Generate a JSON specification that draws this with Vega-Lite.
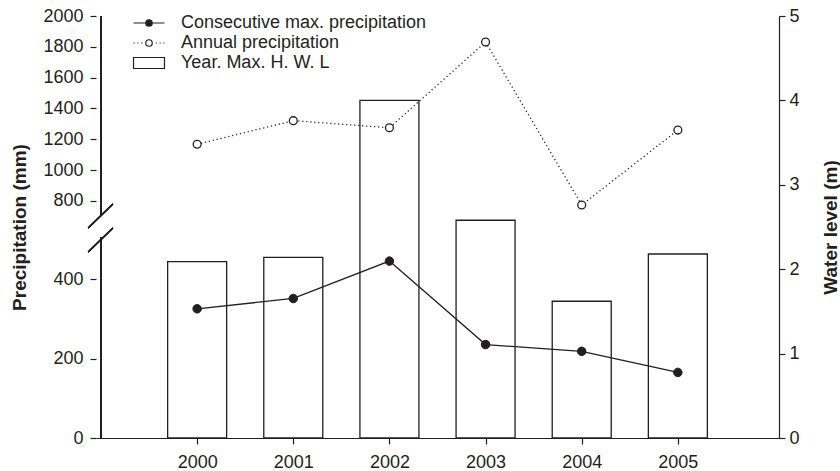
{
  "$schema": "https://vega.github.io/schema/vega-lite/v6.json",
  "width": 683,
  "height": 422,
  "autosize": {"type": "none"},
  "padding": {"left": 96, "top": 16, "right": 61, "bottom": 33},
  "background": "white",
  "config": {
    "view": {"stroke": null},
    "font": "Liberation Sans",
    "axis": {
      "labelFont": "Liberation Sans",
      "labelFontSize": 18,
      "labelColor": "#231f20",
      "titleFont": "Liberation Sans",
      "titleFontSize": 19,
      "titleFontWeight": "bold",
      "titleColor": "#231f20",
      "domainColor": "#231f20",
      "domainWidth": 1.2,
      "tickColor": "#231f20",
      "tickWidth": 1.2,
      "tickSize": 6,
      "grid": false,
      "labelFlush": false,
      "labelOverlap": false
    }
  },
  "data": {
    "values": [
      {"year": 2000, "water": 2.09, "consecutive": 325, "annual": 1168},
      {"year": 2001, "water": 2.14, "consecutive": 351, "annual": 1321},
      {"year": 2002, "water": 4.0, "consecutive": 445, "annual": 1275},
      {"year": 2003, "water": 2.58, "consecutive": 235, "annual": 1831},
      {"year": 2004, "water": 1.62, "consecutive": 218, "annual": 774},
      {"year": 2005, "water": 2.18, "consecutive": 165, "annual": 1260}
    ]
  },
  "encoding": {
    "x": {
      "field": "year",
      "type": "quantitative",
      "scale": {"domain": [1999, 2006], "nice": false, "zero": false},
      "axis": {"values": [2000, 2001, 2002, 2003, 2004, 2005], "format": "d", "title": null, "labelPadding": 9}
    }
  },
  "layer": [
    {
      "layer": [
        {
          "mark": {"type": "bar", "orient": "vertical", "width": 59, "fill": "white", "stroke": "#231f20", "strokeWidth": 1.3},
          "encoding": {
            "y": {
              "field": "water",
              "type": "quantitative",
              "scale": {"domain": [0, 5], "nice": false, "zero": true},
              "axis": {
                "orient": "right",
                "values": [0, 1, 2, 3, 4, 5],
                "title": "Water level (m)",
                "titleAngle": 270,
                "titleBaseline": "top",
                "titlePadding": 22,
                "labelPadding": 4
              }
            }
          }
        }
      ]
    },
    {
      "layer": [
        {
          "mark": {"type": "line", "stroke": "#231f20", "strokeWidth": 1.3, "strokeDash": [1.2, 2.8]},
          "encoding": {
            "y": {
              "field": "annual",
              "type": "quantitative",
              "scale": {"domain": [0, 500, 750, 2000], "range": [422, 223.25, 192.7, 0], "nice": false, "zero": false},
              "axis": {
                "orient": "left",
                "values": [0, 200, 400, 800, 1000, 1200, 1400, 1600, 1800, 2000],
                "format": "d",
                "title": "Precipitation (mm)",
                "domain": false,
                "labelPadding": 7,
                "titlePadding": 13
              }
            }
          }
        },
        {
          "mark": {"type": "line", "stroke": "#231f20", "strokeWidth": 1.3},
          "encoding": {"y": {"field": "consecutive", "type": "quantitative"}}
        },
        {
          "mark": {"type": "point", "shape": "circle", "filled": true, "fill": "white", "stroke": "#231f20", "strokeWidth": 1.3, "size": 62, "opacity": 1},
          "encoding": {"y": {"field": "annual", "type": "quantitative"}}
        },
        {
          "mark": {"type": "point", "shape": "circle", "filled": true, "fill": "#231f20", "stroke": "#231f20", "strokeWidth": 1, "size": 72, "opacity": 1},
          "encoding": {"y": {"field": "consecutive", "type": "quantitative"}}
        },
        {
          "mark": {"type": "rule", "stroke": "#231f20", "strokeWidth": 1.2},
          "encoding": {"x": {"datum": 1999}, "y": {"datum": 0}, "y2": {"datum": 518}}
        },
        {
          "mark": {"type": "rule", "stroke": "#231f20", "strokeWidth": 1.2},
          "encoding": {"x": {"datum": 1999}, "y": {"datum": 698}, "y2": {"datum": 2000}}
        },
        {
          "mark": {"type": "rule", "stroke": "#231f20", "strokeWidth": 1.2},
          "encoding": {"x": {"datum": 1998.867}, "x2": {"datum": 1999.123}, "y": {"datum": 592}, "y2": {"datum": 780.5}}
        },
        {
          "mark": {"type": "rule", "stroke": "#231f20", "strokeWidth": 1.2},
          "encoding": {"x": {"datum": 1998.867}, "x2": {"datum": 1999.123}, "y": {"datum": 468}, "y2": {"datum": 592}}
        },
        {
          "transform": [{"fold": ["consecutive", "annual", "water"], "as": ["series", "amount"]}],
          "mark": {"type": "point", "filled": false, "color": "#231f20", "strokeWidth": 1.2, "size": 324, "opacity": 0},
          "encoding": {
            "shape": {
              "field": "series",
              "type": "nominal",
              "scale": {
                "domain": ["consecutive", "annual", "water"],
                "range": [
                  "M-1.72,0H1.72M-0.36,0A0.36,0.36,0,1,0,0.36,0A0.36,0.36,0,1,0,-0.36,0M-0.24,0A0.24,0.24,0,1,0,0.24,0A0.24,0.24,0,1,0,-0.24,0M-0.12,0A0.12,0.12,0,1,0,0.12,0A0.12,0.12,0,1,0,-0.12,0",
                  "M-1.72,0h0.13M-1.3,0h0.13M-0.88,0h0.13M0.75,0h0.13M1.17,0h0.13M1.59,0h0.13M-0.36,0A0.36,0.36,0,1,0,0.36,0A0.36,0.36,0,1,0,-0.36,0",
                  "M-1.72,-0.61H1.72V0.61H-1.72Z"
                ]
              },
              "legend": {
                "orient": "none",
                "legendX": 43,
                "legendY": -3,
                "title": null,
                "padding": 0,
                "rowPadding": 1,
                "labelOffset": 22,
                "labelLimit": 0,
                "labelFont": "Liberation Sans",
                "labelFontSize": 18,
                "labelColor": "#231f20",
                "symbolSize": 324,
                "symbolStrokeWidth": 1.2,
                "symbolStrokeColor": "#231f20",
                "symbolOpacity": 1,
                "labelExpr": "datum.value == 'consecutive' ? 'Consecutive max. precipitation' : datum.value == 'annual' ? 'Annual precipitation' : 'Year. Max. H. W. L'"
              }
            }
          }
        }
      ]
    }
  ],
  "resolve": {"scale": {"y": "independent"}, "axis": {"y": "independent"}}
}
